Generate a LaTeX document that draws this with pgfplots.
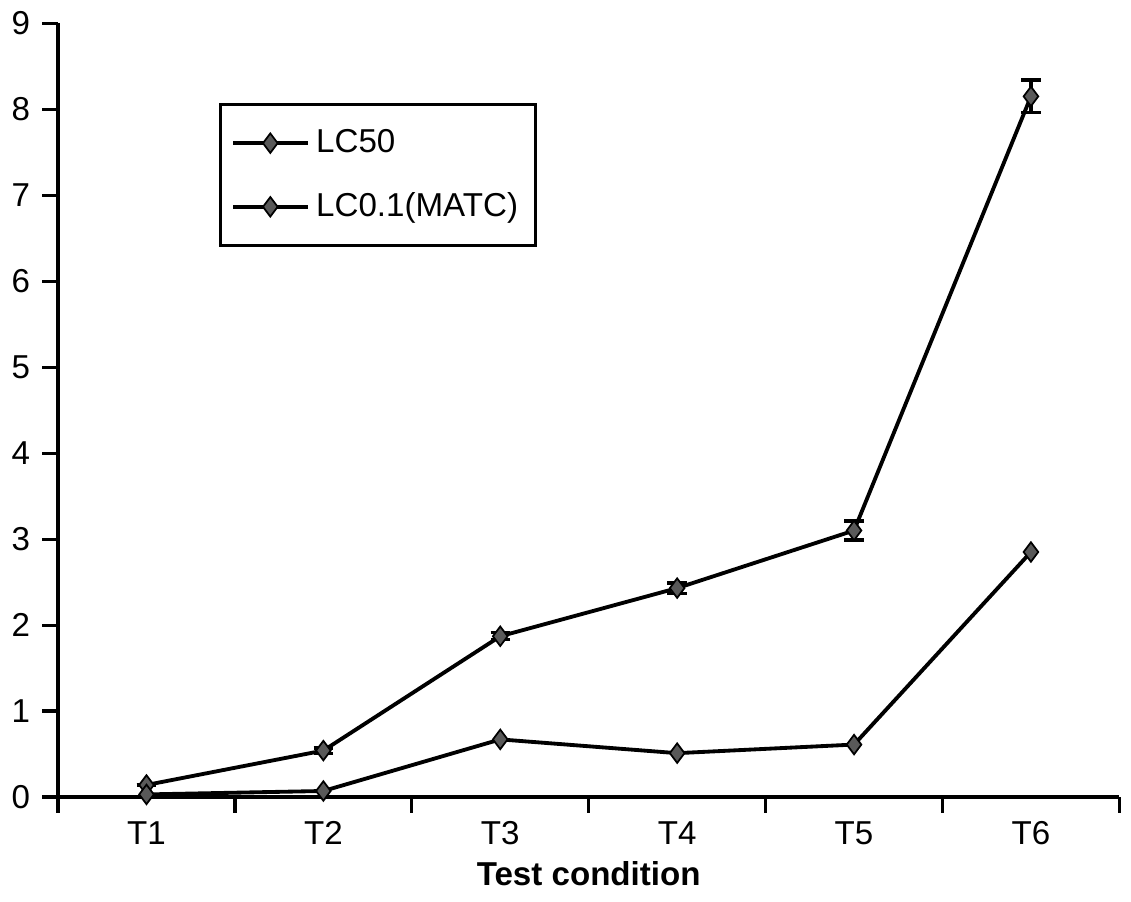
\documentclass[border=0pt]{standalone}
\usepackage{pgfplots}
\pgfplotsset{compat=1.18}
\usepackage{fontspec}
\setmainfont{Liberation Sans}
\begin{document}
\begin{tikzpicture}
\begin{axis}[
  scale only axis,
  width=107mm, height=78mm,
  xmin=0.5, xmax=6.5, ymin=0, ymax=9,
  axis lines*=left,
  axis line style={line width=0.9pt, black},
  xtick={0.5,1.5,...,6.5},
  xticklabels={},
  extra x ticks={1,...,6},
  extra x tick labels={T1,T2,T3,T4,T5,T6},
  extra x tick style={xtick style={draw=none}},
  ytick={0,...,9},
  tick align=outside,
  major tick length=4.5pt,
  xtick style={black, line width=0.9pt},
  ytick style={black, line width=0.9pt},
  tick label style={font=\fontsize{9.5}{11}\selectfont},
  xticklabel style={yshift=1pt},
  yticklabel style={xshift=0pt},
  /pgf/number format/assume math mode=true,
  xlabel={\textbf{Test condition}},
  xlabel style={font=\fontsize{9.5}{11}\selectfont\bfseries,
    at={(axis description cs:0.5,0)}, anchor=center, yshift=-22pt},
  clip=false,
  legend style={at={(0.152,0.897)}, anchor=north west, draw=black, line width=0.9pt,
    font=\fontsize{9.5}{11}\selectfont, row sep=6pt, inner xsep=3pt, inner ysep=5pt,
    nodes={inner sep=2pt}},
  legend cell align=left,
  legend image code/.code={
    \draw[#1, line width=1pt] (0cm,0cm) -- (0.75cm,0cm);
    \draw[#1, mark repeat=1, mark phase=1] plot coordinates {(0.375cm,0cm)};
  },
]
\addplot+[black, line width=1.1pt, mark=diamond*,
  mark options={fill=gray!70!black, draw=black, scale=1.4, line width=0.5pt},
  error bars/.cd, y dir=both, y explicit,
  error bar style={line width=0.9pt}, error mark options={rotate=90, mark size=2.8pt, line width=0.9pt}]
  coordinates {
  (1,0.14) +- (0,0.0)
  (2,0.54) +- (0,0.03)
  (3,1.87) +- (0,0.04)
  (4,2.43) +- (0,0.06)
  (5,3.10) +- (0,0.11)
  (6,8.15) +- (0,0.19)
};
\addlegendentry{LC50}
\addplot+[black, line width=1.1pt, mark=diamond*,
  mark options={fill=gray!70!black, draw=black, scale=1.4, line width=0.5pt}]
  coordinates {
  (1,0.03) (2,0.07) (3,0.67) (4,0.51) (5,0.61) (6,2.85)
};
\addlegendentry{LC0.1(MATC)}
\path (axis description cs:0.5,0) ++(0,-30pt) coordinate (bot);
\end{axis}
\end{tikzpicture}
\end{document}
